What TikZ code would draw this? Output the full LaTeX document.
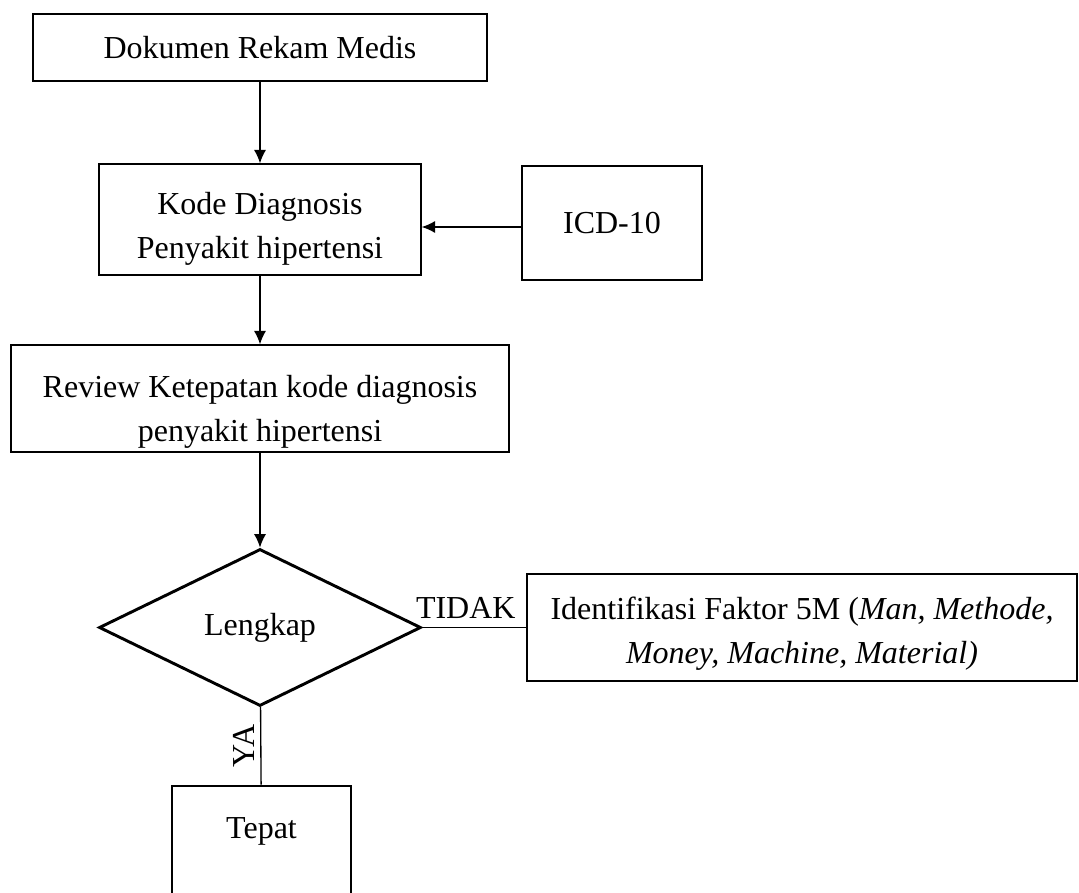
\documentclass[tikz,border=0pt]{standalone}
\usepackage{fontspec}
\setmainfont{Liberation Serif}
\usetikzlibrary{arrows.meta}
\usetikzlibrary{shapes.geometric}
\newcommand{\px}{0.375pt}

\begin{document}
\begin{tikzpicture}[x=\px, y=-\px, auto, >={Latex[length=5pt,width=4.5pt]}]
    \fontsize{12pt}{16.5pt}\selectfont

    % TikZ styles for drawing %%%%%%%%%%%%%%%%%%%%%%%%%%%%%%%%%%%%%%%%%%%%%%%%%%%%%%
    \tikzstyle{block} = [draw,rectangle,line width=0.5pt,inner sep=0pt,align=center]
    \tikzstyle{heavy} = [draw,rectangle,line width=1.1pt,inner sep=0pt,align=center]
    \tikzstyle{decision} = [draw,diamond,line width=1.1pt,inner sep=0pt,aspect=2]
    \tikzstyle{connector} = [->,line width=0.5pt]
    \tikzstyle{line} = [line width=0.5pt]

    \clip (0,0) rectangle (1079,893);
    \useasboundingbox (0,0) rectangle (1079,893);

    % Nodes %%%%%%%%%%%%%%%%%%%%%%%%%%%%%%%%%%%%%%%%%%%%%%%%%%%%%%%%%%%%%%%%%%%%%%%%%%%
    \node[block, minimum width=454*\px, minimum height=67*\px] (rekam) at (260,47.5) {Dokumen Rekam Medis};
    \node[block, minimum width=322*\px, minimum height=111*\px] (kode) at (260,219.5) {\rule{0pt}{15pt}Kode Diagnosis\\Penyakit hipertensi};
    \node[block, minimum width=180*\px, minimum height=114*\px] (icd) at (612,223) {ICD-10};
    \node[block, minimum width=498*\px, minimum height=107*\px] (review) at (260,398.5) {\rule{0pt}{18pt}Review Ketepatan kode diagnosis\\penyakit hipertensi};
    \node[decision, minimum width=322*\px, minimum height=157*\px] (lengkap) at (260,627.5) {Lengkap};
    \node[heavy, minimum width=550*\px, minimum height=107*\px] (faktor) at (802,627.5)
        {\rule{0pt}{13pt}Identifikasi Faktor 5M (\textit{Man, Methode,}\\\textit{Money, Machine, Material)}};
    \node[heavy, minimum width=179*\px, minimum height=112*\px, text depth=0pt] (tepat) at (261.5,842) {Tepat\\[-6pt]\strut};

    % Now link the nodes %%%%%%%%%%%%%%%%%%%%%%%%%%%%%%%%%%%%%%%%%%%%%%%%%%%%%%%%%%%%%%%%
    \draw [connector] (rekam) -- (kode);
    \draw [connector] (icd.west |- 0,227) -- (kode.east |- 0,227);
    \draw [connector] (kode) -- (review);
    \draw [connector] (review) -- (lengkap);
    \draw [line]      (lengkap) -- node[above, pos=0.42, inner sep=3pt] {TIDAK} (faktor);
    \draw [line]      (lengkap) -- node[above, rotate=90, inner sep=2pt] {YA} (tepat);

\end{tikzpicture}
\end{document}
